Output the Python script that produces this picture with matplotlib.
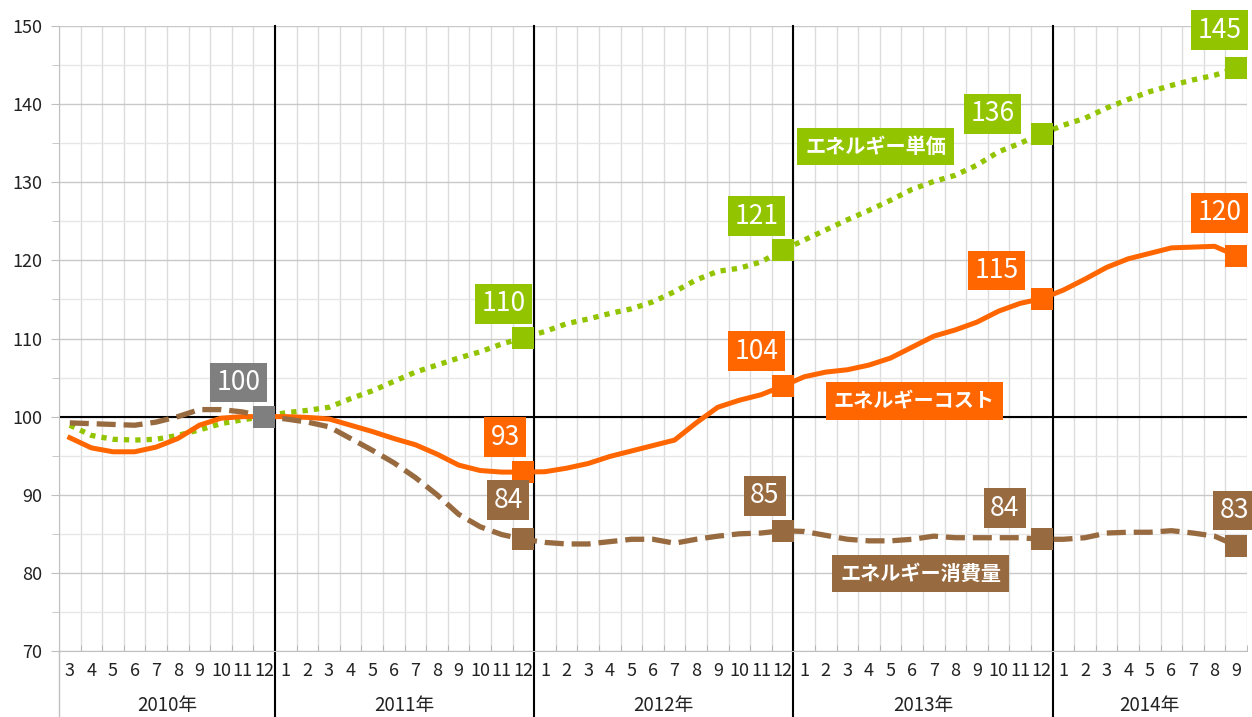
import numpy as np
import matplotlib
matplotlib.use("Agg")
import matplotlib.pyplot as plt
import matplotlib.transforms as mtransforms

plt.rcParams['font.family'] = ['Noto Sans CJK JP', 'DejaVu Sans']

# ---------------- data ----------------
years = ['2010年', '2011年', '2012年', '2013年', '2014年']
year_counts = [10, 12, 12, 12, 9]
month_labels = ([str(m) for m in range(3, 13)] + [str(m) for m in range(1, 13)] * 3
                + [str(m) for m in range(1, 10)])

cost = [97.3, 96.0, 95.5, 95.5, 96.1, 97.2, 98.9, 99.8, 100.0, 100.0,
        100.0, 99.9, 99.7, 98.9, 98.1, 97.2, 96.4, 95.2, 93.8, 93.1, 92.9, 92.9,
        92.95, 93.4, 94.0, 94.9, 95.6, 96.3, 97.0, 99.2, 101.2, 102.1, 102.8, 103.9,
        105.1, 105.7, 106.0, 106.6, 107.5, 108.9, 110.3, 111.1, 112.1, 113.5, 114.5, 115.1,
        116.2, 117.6, 119.1, 120.2, 120.9, 121.6, 121.7, 121.8, 120.6]
price = [98.9, 97.6, 97.1, 97.0, 97.1, 97.6, 98.3, 99.1, 99.6, 100.0,
         100.5, 100.8, 101.2, 102.3, 103.3, 104.5, 105.7, 106.6, 107.5, 108.3, 109.3, 110.1,
         110.9, 111.9, 112.5, 113.2, 113.8, 114.7, 116.0, 117.5, 118.6, 119.0, 119.8, 121.3,
         122.6, 123.9, 125.2, 126.4, 127.7, 129.1, 130.1, 130.9, 132.2, 133.9, 135.0, 136.2,
         137.3, 138.2, 139.5, 140.6, 141.6, 142.4, 143.1, 143.7, 144.6]
consumption = [99.2, 99.1, 99.0, 98.9, 99.3, 100.0, 100.9, 100.9, 100.6, 100.0,
               99.7, 99.3, 98.7, 97.2, 95.7, 94.1, 92.2, 90.0, 87.5, 85.9, 84.9, 84.3,
               83.9, 83.7, 83.7, 84.0, 84.3, 84.3, 83.8, 84.3, 84.7, 85.0, 85.1, 85.4,
               85.3, 84.8, 84.3, 84.1, 84.1, 84.3, 84.7, 84.5, 84.5, 84.5, 84.5, 84.3,
               84.3, 84.5, 85.1, 85.2, 85.2, 85.4, 85.1, 84.7, 83.5]

marker_idx = [21, 33, 45, 54]
base_idx = 9
base_label = '100'
price_labels = ['110', '121', '136', '145']
cost_labels = ['93', '104', '115', '120']
cons_labels = ['84', '85', '84', '83']
series_names = ['エネルギー単価', 'エネルギーコスト', 'エネルギー消費量']

# ---------------- style ----------------
GREEN = '#92C400'
ORANGE = '#FF6600'
BROWN = '#986A40'
GRAY = '#7F7F7F'
PX = 72 / 100.0  # pixels -> points

fig = plt.figure(figsize=(12.52, 7.17), dpi=100)
W, H = 1252, 717
L, R, T, B = 59, 1247, 26, 651
ax = fig.add_axes([L / W, 1 - B / H, (R - L) / W, (B - T) / H])

n = len(cost)
x = np.arange(n)
ax.set_xlim(-0.5, n - 0.5)
ax.set_ylim(70, 150)

# grid
ax.set_yticks(np.arange(70, 151, 10))
ax.set_yticks(np.arange(75, 150, 10), minor=True)
ax.set_xticks(x, labels=month_labels)
ax.set_xticks(np.arange(-0.5, n, 1), minor=True)
ax.grid(axis='y', which='major', color='#c8c8c8', lw=1.0, zorder=0)
ax.grid(axis='y', which='minor', color='#e6e6e6', lw=1.0, zorder=0)
ax.grid(axis='x', which='minor', color='#dcdcdc', lw=1.0, zorder=0)
ax.grid(axis='x', which='major', visible=False)
ax.set_axisbelow(True)

for s in ['top', 'right']:
    ax.spines[s].set_visible(False)
ax.spines['left'].set_color('#c0c0c0')
ax.spines['bottom'].set_color('#c0c0c0')

ax.tick_params(axis='y', which='major', labelsize=13, length=6, color='#c0c0c0',
               labelcolor='#222222', pad=6)
ax.tick_params(axis='y', which='minor', length=5, color='#c0c0c0')
ax.tick_params(axis='x', which='major', length=0, labelsize=13, labelcolor='#222222', pad=8)
ax.tick_params(axis='x', which='minor', length=4, direction='in', color='#b0b0b0')

# reference lines
ax.axhline(100, color='black', lw=1.5, zorder=2)
trans = mtransforms.blended_transform_factory(ax.transData, ax.transAxes)
bounds = np.cumsum(year_counts) - 0.5
starts = np.concatenate([[-0.5], bounds[:-1]])
for b in bounds[:-1]:
    ax.plot([b, b], [-0.106, 1.0], color='black', lw=1.5, transform=trans,
            clip_on=False, zorder=2)
ax.plot([-0.5, -0.5], [-0.106, 0], color='#c0c0c0', lw=1.0, transform=trans, clip_on=False)
for yr, s0, cnt in zip(years, starts, year_counts):
    ax.text(s0 + cnt / 2.0, -0.088, yr, transform=trans, ha='center', va='center',
            fontsize=13.5, color='#222222')

# series
ax.plot(x, price, color=GREEN, lw=3.8, linestyle=(0, (1, 1.15)), dash_capstyle='butt', zorder=3)
ax.plot(x, cost, color=ORANGE, lw=3.6, solid_joinstyle='round', zorder=3)
ax.plot(x, consumption, color=BROWN, lw=3.8, linestyle=(0, (3.6, 1.5)),
        dash_capstyle='butt', zorder=3)

mx = np.array(marker_idx)
for data, col in [(price, GREEN), (cost, ORANGE), (consumption, BROWN)]:
    vals = np.array(data)
    ax.plot(mx, vals[mx], linestyle='none', marker='s', ms=16, color=col, mew=0, zorder=4)
ax.plot([base_idx], [cost[base_idx]], linestyle='none', marker='s', ms=16, color=GRAY,
        mew=0, zorder=4)


def lab(xi, yv, txt, col, dx, dy):
    ax.annotate(txt, (xi, yv), xytext=(dx * PX, -dy * PX), textcoords='offset points',
                ha='center', va='center', fontsize=19, color='white', zorder=6,
                bbox=dict(boxstyle='square,pad=0.24', fc=col, ec='none'),
                annotation_clip=False)


lab(base_idx, cost[base_idx], base_label, GRAY, -26, -34)
p_off = [(-20, -34), (-26, -34), (-49, -20), (-17, -38)]
c_off = [(-18, -35), (-26, -35), (-45, -28), (-17, -43)]
b_off = [(-15, -39), (-18, -35), (-37, -31), (-2, -35)]
for i, t, o in zip(marker_idx, price_labels, p_off):
    lab(i, price[i], t, GREEN, *o)
for i, t, o in zip(marker_idx, cost_labels, c_off):
    lab(i, cost[i], t, ORANGE, *o)
for i, t, o in zip(marker_idx, cons_labels, b_off):
    lab(i, consumption[i], t, BROWN, *o)

# series name boxes
name_pos = [(37.3, 134.6), (39.1, 102.0), (39.4, 79.9)]
for name, (px_, py_), col in zip(series_names, name_pos, [GREEN, ORANGE, BROWN]):
    ax.text(px_, py_, name, ha='center', va='center', fontsize=14.5, color='white',
            fontweight='bold', zorder=6,
            bbox=dict(boxstyle='square,pad=0.4', fc=col, ec='none'))

fig.savefig('out.png', dpi=100)
